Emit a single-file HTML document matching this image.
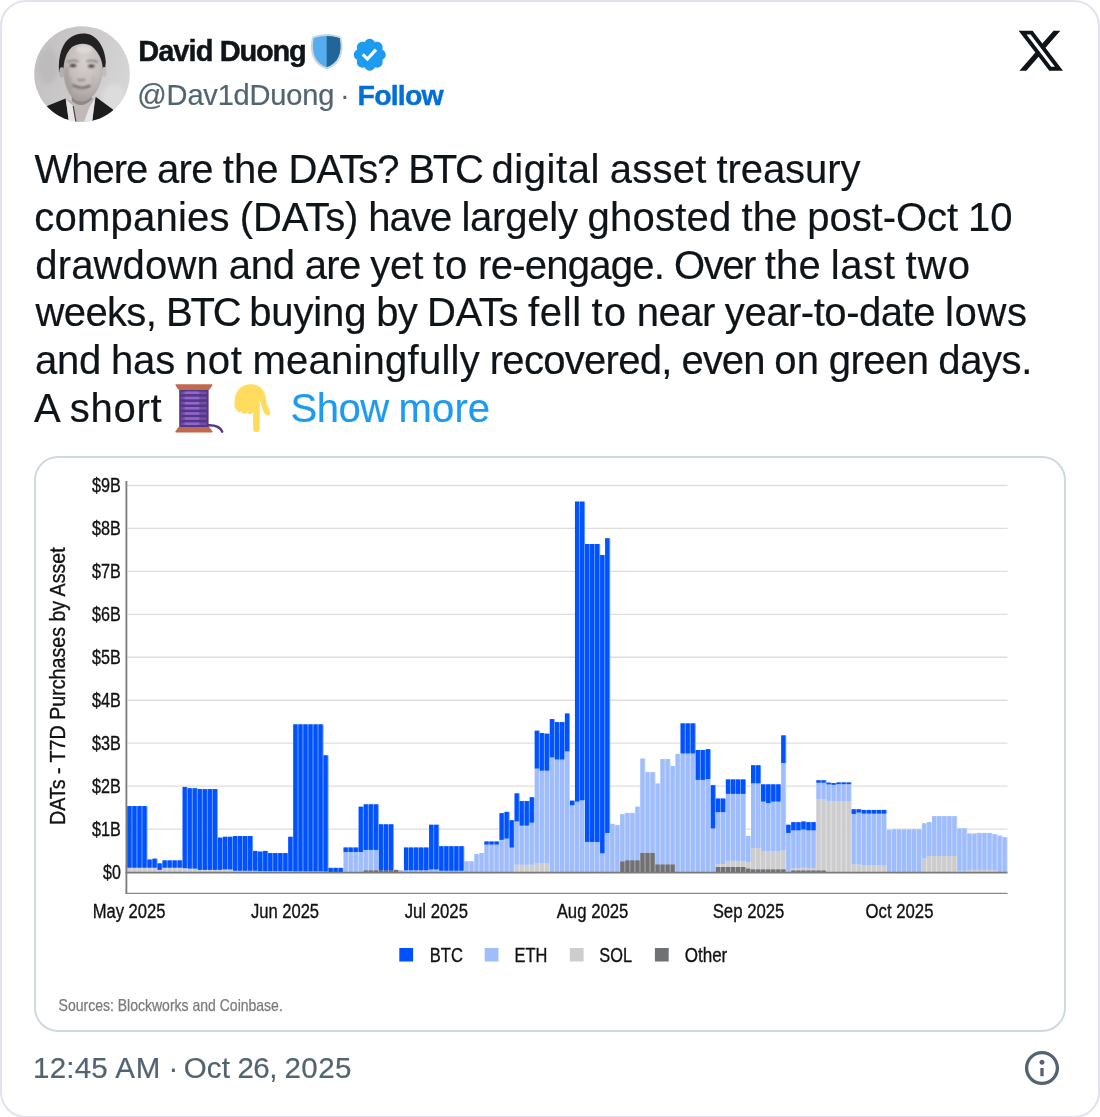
<!DOCTYPE html>
<html lang="en"><head><meta charset="utf-8"><title>Post by David Duong</title>
<style>
html,body{margin:0;padding:0;background:#fff}
body{width:1100px;height:1117px;overflow:hidden;font-family:"Liberation Sans",sans-serif}
.abs{position:absolute}
#card{position:relative;width:1100px;height:1118px;box-sizing:border-box;border:2px solid #e2e1f1;border-radius:26px;background:#fff;overflow:hidden}
#inner{position:absolute;left:-2px;top:-2px;width:1100px;height:1117px}
.tw{line-height:48px;height:48px;color:#0f1419;white-space:pre;-webkit-text-stroke:0.2px currentColor}
.tw span,.hd span{position:absolute;top:0;left:0;white-space:pre}
.hd{white-space:pre;line-height:40px;height:40px}
#media{left:34px;top:456px;width:1032px;height:576px;box-sizing:border-box;border:2px solid #cfd9de;border-radius:24px;background:#fff}
</style></head><body>
<div id="card"><div id="inner">
<svg class="abs" style="left:34px;top:26px" width="96" height="96" viewBox="0 0 96 96">
<defs>
<clipPath id="avc"><circle cx="48" cy="48" r="47.8"/></clipPath>
<linearGradient id="avbg" x1="0" y1="0.2" x2="1" y2="0.5"><stop offset="0" stop-color="#c2c0c0"/><stop offset="0.5" stop-color="#cbc9c9"/><stop offset="1" stop-color="#d6d5d5"/></linearGradient>
<radialGradient id="avface" cx="0.55" cy="0.3" r="0.75"><stop offset="0" stop-color="#d6d0cf"/><stop offset="0.55" stop-color="#c4bdbc"/><stop offset="1" stop-color="#9f9897"/></radialGradient>
<filter id="avb" x="-10%" y="-10%" width="120%" height="120%"><feGaussianBlur stdDeviation="0.65"/></filter>
<filter id="avb4" x="-20%" y="-20%" width="140%" height="140%"><feGaussianBlur stdDeviation="0.8"/></filter>
<filter id="avb2" x="-20%" y="-20%" width="140%" height="140%"><feGaussianBlur stdDeviation="1.3"/></filter>
<filter id="avb3" x="-20%" y="-20%" width="140%" height="140%"><feGaussianBlur stdDeviation="2.2"/></filter>
</defs>
<g clip-path="url(#avc)">
<rect width="96" height="96" fill="url(#avbg)"/>
<ellipse cx="80" cy="72" rx="12" ry="14" fill="#dddcdc" filter="url(#avb3)"/>
<ellipse cx="14" cy="40" rx="10" ry="18" fill="#bdbbbb" filter="url(#avb3)"/>
<g filter="url(#avb)">
<path d="M13 80 L31.600 72.500 L36.500 97 L10 100Z" fill="#1c1c1d"/><path d="M61.600 70.700 L79 83.500 L82 100 L56 97Z" fill="#1c1c1d"/>
<path d="M31.600 72.500 L35 97 L58 97 L61.600 70.700 L48 80Z" fill="#b9b2b1"/>
<path d="M38.500 64 L38.500 97 L50 97 L57 80 L58 64Z" fill="#c0b9b8"/>
<path d="M37.800 69 Q48 80 58 68 L58 73 Q48 84 37.800 75Z" fill="#8f8887"/>
<path d="M32 73.500 L38.800 79.500 L41.500 97 L35 97Z" fill="#e6e6e8"/>
<path d="M61 72 L55.500 81 L49.500 97 L58 97Z" fill="#e6e6e8"/>
<path d="M39.200 80 L42 96" stroke="#4a4544" stroke-width="1.200" fill="none"/>
<path d="M25 46 C24 30 28 16 38 10.500 C44 7 52 6.500 58 9.500 C66 14 71 24 71.800 36 L71 44 L68 46 L30 47Z" fill="#232222"/>
<ellipse cx="27.800" cy="46.500" rx="2.600" ry="5.200" fill="#b7b0af"/>
<ellipse cx="70.300" cy="46" rx="2.400" ry="5" fill="#c4bdbc"/>
<path d="M29.400 43.500 C29.800 35 32 26.500 38 21 C43 17.300 52 16 58 20.500 C64 25.500 68 33 68.800 42 C69 52 66 60 60.700 68 C56 73.500 52 75.500 47 75.500 C42 75.500 38 72 35 67 C31 60 29.400 52 29.400 43.500Z" fill="url(#avface)"/>
</g>
<g filter="url(#avb2)">
<path d="M30.500 44 C30.500 52 32 60 36 67 L39 62 C35 56 34 48 34.500 40Z" fill="#a39c9b" opacity="0.8"/>
<ellipse cx="50" cy="23.500" rx="8" ry="4" fill="#e0dbda" opacity="0.85"/>
</g>
<g filter="url(#avb4)">
<ellipse cx="39" cy="39.600" rx="3.200" ry="1.500" fill="#3c3838"/>
<ellipse cx="57.300" cy="39.900" rx="3.200" ry="1.500" fill="#3c3838"/>
<path d="M33.500 36 Q39 33.200 44.500 35.600" stroke="#7a7372" stroke-width="1.500" fill="none"/>
<path d="M52.500 35.600 Q58 33.200 64 36.200" stroke="#7a7372" stroke-width="1.500" fill="none"/>
<path d="M43.500 53.200 Q47 55.400 51 53.200" stroke="#8a8382" stroke-width="1.800" fill="none"/>
<path d="M38 58.800 Q47 64.500 56.500 59.600" stroke="#5f5857" stroke-width="1.800" fill="none"/>
<path d="M41 62.500 Q47 66 53.500 63" stroke="#b1a9a8" stroke-width="1.600" fill="none"/>
<path d="M37 50 Q35.500 56 38 60" stroke="#aaa3a2" stroke-width="1.500" fill="none"/>
<path d="M58.500 50 Q60.500 56 57.500 60.500" stroke="#b6afae" stroke-width="1.500" fill="none"/>
</g>
</g></svg>
<div class="abs hd" id="name" style="left:138.20px;top:30.80px;font-size:29px;font-weight:700;color:#0f1419;-webkit-text-stroke:0.45px #0f1419"><span style="left:0.00px;letter-spacing:-0.953px">David </span><span style="left:81.56px;letter-spacing:-1.188px">Duong</span></div>
<svg class="abs" style="left:308.700px;top:33.800px" width="35.400" height="35.400" viewBox="0 0 36 36">
<path fill="#CCD6DD" d="M33 3c-7-3-15-3-15-3S10 0 3 3C0 18 3 31 18 36c15-5 18-18 15-33z"/>
<path fill="#55ACEE" d="M18 33.884C6.412 29.729 1.961 19.831 4.760 4.444 11.063 2.029 17.928 2 18 2c.071 0 6.958.040 13.240 2.444 2.799 15.387-1.652 25.285-13.240 29.440z"/>
<path fill="#226699" d="M31.240 4.444C24.958 2.040 18.071 2 18 2v31.884c11.588-4.155 16.039-14.053 13.240-29.440z"/>
</svg>
<svg class="abs" style="left:350.700px;top:36.100px" width="37.500" height="37.500" viewBox="0 0 24 24">
<path fill="#1d9bf0" d="M22.250 12c0-1.430-.880-2.670-2.190-3.340.460-1.390.200-2.900-.810-3.910s-2.520-1.270-3.910-.810c-.660-1.310-1.910-2.190-3.340-2.190s-2.670.880-3.330 2.190c-1.400-.460-2.910-.200-3.920.810s-1.260 2.520-.800 3.910c-1.310.670-2.200 1.910-2.200 3.340s.890 2.670 2.200 3.340c-.460 1.390-.210 2.900.800 3.910s2.520 1.260 3.910.810c.670 1.310 1.910 2.190 3.340 2.190s2.680-.880 3.340-2.190c1.390.450 2.900.200 3.910-.810s1.270-2.520.810-3.910c1.310-.670 2.190-1.910 2.190-3.340zm-11.710 4.200L6.800 12.460l1.410-1.420 2.260 2.260 4.800-5.230 1.470 1.360-6.200 6.770z"/>
</svg>
<div class="abs hd" id="handle" style="left:137.36px;top:75.20px;font-size:29px;color:#536471;-webkit-text-stroke:0.2px #536471"><span style="left:0.00px;letter-spacing:-0.179px">@Dav1dDuong</span></div>
<div class="abs hd" id="dot" style="left:340px;top:75.20px;font-size:29px;color:#536471">·</div>
<div class="abs hd" id="follow" style="left:357.60px;top:75.20px;font-size:28.5px;font-weight:700;color:#006fd6;-webkit-text-stroke:0.4px #006fd6"><span style="left:0.00px;letter-spacing:-0.826px">Follow</span></div>
<svg class="abs" style="left:1015.900px;top:25.600px" width="49.400" height="49.400" viewBox="0 0 24 24">
<path fill="#0f1419" d="M18.244 2.250h3.308l-7.227 8.260 8.502 11.240H16.170l-5.214-6.817L4.990 21.750H1.680l7.730-8.835L1.254 2.250H8.080l4.713 6.231zm-1.161 17.520h1.833L7.084 4.126H5.117z"/>
</svg>
<div class="abs tw" id="L0" style="left:34.60px;top:145.10px;font-size:40px;"><span style="left:0.00px;letter-spacing:-1.069px">Where </span><span style="left:122.34px;letter-spacing:-0.661px">are </span><span style="left:188.05px;letter-spacing:0.130px">the </span><span style="left:253.92px;letter-spacing:-0.984px">DATs? </span><span style="left:373.72px;letter-spacing:-2.224px">BTC </span><span style="left:456.92px;letter-spacing:0.556px">digital </span><span style="left:575.20px;letter-spacing:0.234px">asset </span><span style="left:681.86px;letter-spacing:-0.072px">treasury</span></div><div class="abs tw" id="L1" style="left:34.28px;top:192.80px;font-size:40px;"><span style="left:0.00px;letter-spacing:0.238px">companies </span><span style="left:205.45px;letter-spacing:-0.112px">(DATs) </span><span style="left:333.91px;letter-spacing:-0.852px">have </span><span style="left:427.12px;letter-spacing:-0.219px">largely </span><span style="left:553.31px;letter-spacing:0.232px">ghosted </span><span style="left:707.16px;letter-spacing:0.130px">the </span><span style="left:773.03px;letter-spacing:-0.055px">post-Oct </span><span style="left:933.62px;letter-spacing:0.102px">10</span></div><div class="abs tw" id="L2" style="left:35.28px;top:240.50px;font-size:40px;"><span style="left:0.00px;letter-spacing:0.158px">drawdown </span><span style="left:193.47px;letter-spacing:-0.240px">and </span><span style="left:269.38px;letter-spacing:-0.661px">are </span><span style="left:335.08px;letter-spacing:-0.229px">yet </span><span style="left:397.62px;letter-spacing:0.977px">to </span><span style="left:442.81px;letter-spacing:-0.739px">re-engage. </span><span style="left:638.78px;letter-spacing:-1.438px">Over </span><span style="left:729.59px;letter-spacing:0.130px">the </span><span style="left:795.47px;letter-spacing:0.648px">last </span><span style="left:870.19px;letter-spacing:1.109px">two</span></div><div class="abs tw" id="L3" style="left:35.60px;top:288.20px;font-size:40px;"><span style="left:0.00px;letter-spacing:-0.656px">weeks, </span><span style="left:130.44px;letter-spacing:-2.224px">BTC </span><span style="left:213.64px;letter-spacing:-0.141px">buying </span><span style="left:340.55px;letter-spacing:-0.656px">by </span><span style="left:391.36px;letter-spacing:-0.371px">DATs </span><span style="left:492.36px;letter-spacing:0.664px">fell </span><span style="left:556.03px;letter-spacing:0.977px">to </span><span style="left:601.22px;letter-spacing:-0.477px">near </span><span style="left:689.25px;letter-spacing:-0.457px">year-to-date </span><span style="left:909.31px;letter-spacing:0.684px">lows</span></div><div class="abs tw" id="L4" style="left:35.08px;top:335.90px;font-size:40px;"><span style="left:0.00px;letter-spacing:-0.240px">and </span><span style="left:75.91px;letter-spacing:-0.146px">has </span><span style="left:149.84px;letter-spacing:0.682px">not </span><span style="left:217.38px;letter-spacing:0.237px">meaningfully </span><span style="left:454.67px;letter-spacing:-0.705px">recovered, </span><span style="left:646.48px;letter-spacing:-0.965px">even </span><span style="left:739.25px;letter-spacing:0.070px">on </span><span style="left:793.77px;letter-spacing:-0.547px">green </span><span style="left:903.22px;letter-spacing:-0.403px">days.</span></div><div class="abs tw" id="L5" style="left:34.04px;top:383.60px;font-size:40px;"><span style="left:0.00px;letter-spacing:1.469px">A </span><span style="left:35.83px;letter-spacing:0.725px">short</span></div><div class="abs tw" id="L6" style="left:290.60px;top:383.60px;font-size:40px;color:#1d9bf0"><span style="left:0.00px;letter-spacing:-0.496px">Show </span><span style="left:107.95px;letter-spacing:0.152px">more</span></div>
<svg class="abs" style="left:0;top:0" width="1100" height="1117" viewBox="0 0 1100 1117">
<path d="M208 425.200 C216 425 220.500 427 222.200 431.600" stroke="#553788" stroke-width="2.500" fill="none" stroke-linecap="round"/>
<rect x="179.200" y="388.500" width="29.400" height="39.500" fill="#553788"/>
<rect x="181.200" y="391.60" width="25.400" height="2.500" fill="#744eaa"/><rect x="184.500" y="391.60" width="15" height="2.500" rx="1" fill="#9266cc"/><rect x="181.200" y="396.75" width="25.400" height="2.500" fill="#744eaa"/><rect x="184.500" y="396.75" width="15" height="2.500" rx="1" fill="#9266cc"/><rect x="181.200" y="401.90" width="25.400" height="2.500" fill="#744eaa"/><rect x="184.500" y="401.90" width="15" height="2.500" rx="1" fill="#9266cc"/><rect x="181.200" y="407.05" width="25.400" height="2.500" fill="#744eaa"/><rect x="184.500" y="407.05" width="15" height="2.500" rx="1" fill="#9266cc"/><rect x="181.200" y="412.20" width="25.400" height="2.500" fill="#744eaa"/><rect x="184.500" y="412.20" width="15" height="2.500" rx="1" fill="#9266cc"/><rect x="181.200" y="417.35" width="25.400" height="2.500" fill="#744eaa"/><rect x="184.500" y="417.35" width="15" height="2.500" rx="1" fill="#9266cc"/><rect x="181.200" y="422.50" width="25.400" height="2.500" fill="#744eaa"/><rect x="184.500" y="422.50" width="15" height="2.500" rx="1" fill="#9266cc"/>
<path d="M176.300 384.300 H211.600 Q212.800 384.300 212.300 385.500 L209.800 389.300 Q209.400 389.900 208.600 389.900 H179.300 Q178.500 389.900 178.100 389.300 L175.600 385.500 Q175.100 384.300 176.300 384.300Z" fill="#c1694f"/>
<path d="M176.300 432.500 H211.600 Q212.800 432.500 212.300 431.300 L209.800 427.500 Q209.400 426.900 208.600 426.900 H179.300 Q178.500 426.900 178.100 427.500 L175.600 431.300 Q175.100 432.500 176.300 432.500Z" fill="#c1694f"/>
<path d="M234.600 406 C233.500 392 240.500 384.300 251 384.300 C259.500 384.300 265 390 266 399 C266.800 406 269.500 409.500 270.300 412.500 C270.800 414.800 268.500 416 266.500 415 C263.500 413.500 261.500 408 260.500 401.500 L259.800 401.500 L259.800 429 C259.800 433.400 253.100 433.400 253.100 429 L253.100 411.500 C252.500 414.500 248.500 415.300 247.300 412.600 C245.800 414.600 242.300 414.300 241.400 411.600 C239.300 412.800 236.300 411.600 236.200 409 C235 408.800 234.700 407.500 234.600 406Z" fill="#ffdc5d"/>
</svg>
<div class="abs" id="media"></div>
<svg class="abs" style="left:0;top:0" width="1100" height="1117" viewBox="0 0 1100 1117" font-family="Liberation Sans, sans-serif" stroke-width="0.35" paint-order="stroke">
<g><line x1="127.5" x2="1007.5" y1="829.05" y2="829.05" stroke="#dedede" stroke-width="1.35"/><line x1="127.5" x2="1007.5" y1="786.10" y2="786.10" stroke="#dedede" stroke-width="1.35"/><line x1="127.5" x2="1007.5" y1="743.15" y2="743.15" stroke="#dedede" stroke-width="1.35"/><line x1="127.5" x2="1007.5" y1="700.20" y2="700.20" stroke="#dedede" stroke-width="1.35"/><line x1="127.5" x2="1007.5" y1="657.25" y2="657.25" stroke="#dedede" stroke-width="1.35"/><line x1="127.5" x2="1007.5" y1="614.30" y2="614.30" stroke="#dedede" stroke-width="1.35"/><line x1="127.5" x2="1007.5" y1="571.35" y2="571.35" stroke="#dedede" stroke-width="1.35"/><line x1="127.5" x2="1007.5" y1="528.40" y2="528.40" stroke="#dedede" stroke-width="1.35"/><line x1="127.5" x2="1007.5" y1="485.45" y2="485.45" stroke="#dedede" stroke-width="1.35"/></g>
<g><rect x="127.30" y="867.71" width="5.08" height="4.29" fill="#e3e3e4"/><rect x="127.30" y="806.07" width="5.08" height="61.63" fill="#709eff"/><rect x="132.33" y="867.71" width="5.08" height="4.29" fill="#e3e3e4"/><rect x="132.33" y="806.07" width="5.08" height="61.63" fill="#709eff"/><rect x="137.36" y="867.71" width="5.08" height="4.29" fill="#e3e3e4"/><rect x="137.36" y="806.07" width="5.08" height="61.63" fill="#709eff"/><rect x="142.39" y="867.71" width="5.08" height="4.29" fill="#e3e3e4"/><rect x="142.39" y="806.07" width="5.08" height="61.63" fill="#709eff"/><rect x="147.42" y="867.71" width="5.08" height="4.29" fill="#e3e3e4"/><rect x="147.42" y="859.54" width="5.08" height="8.16" fill="#709eff"/><rect x="152.45" y="867.71" width="5.08" height="4.29" fill="#e3e3e4"/><rect x="152.45" y="858.69" width="5.08" height="9.02" fill="#709eff"/><rect x="157.48" y="869.85" width="5.08" height="2.15" fill="#e3e3e4"/><rect x="157.48" y="863.41" width="5.08" height="6.44" fill="#709eff"/><rect x="162.51" y="867.71" width="5.08" height="4.29" fill="#e3e3e4"/><rect x="162.51" y="860.40" width="5.08" height="7.30" fill="#709eff"/><rect x="167.54" y="867.71" width="5.08" height="4.29" fill="#e3e3e4"/><rect x="167.54" y="860.40" width="5.08" height="7.30" fill="#709eff"/><rect x="172.57" y="867.71" width="5.08" height="4.29" fill="#e3e3e4"/><rect x="172.57" y="860.40" width="5.08" height="7.30" fill="#709eff"/><rect x="177.60" y="867.71" width="5.08" height="4.29" fill="#e3e3e4"/><rect x="177.60" y="860.40" width="5.08" height="7.30" fill="#709eff"/><rect x="182.63" y="868.13" width="5.08" height="3.87" fill="#e3e3e4"/><rect x="182.63" y="786.96" width="5.08" height="81.18" fill="#709eff"/><rect x="187.66" y="868.56" width="5.08" height="3.44" fill="#e3e3e4"/><rect x="187.66" y="788.25" width="5.08" height="80.32" fill="#709eff"/><rect x="192.69" y="868.56" width="5.08" height="3.44" fill="#e3e3e4"/><rect x="192.69" y="788.25" width="5.08" height="80.32" fill="#709eff"/><rect x="197.72" y="869.85" width="5.08" height="2.15" fill="#e3e3e4"/><rect x="197.72" y="789.11" width="5.08" height="80.75" fill="#709eff"/><rect x="202.75" y="869.85" width="5.08" height="2.15" fill="#e3e3e4"/><rect x="202.75" y="789.11" width="5.08" height="80.75" fill="#709eff"/><rect x="207.78" y="869.85" width="5.08" height="2.15" fill="#e3e3e4"/><rect x="207.78" y="789.11" width="5.08" height="80.75" fill="#709eff"/><rect x="212.81" y="869.85" width="5.08" height="2.15" fill="#e3e3e4"/><rect x="212.81" y="789.11" width="5.08" height="80.75" fill="#709eff"/><rect x="217.84" y="869.85" width="5.08" height="2.15" fill="#e3e3e4"/><rect x="217.84" y="837.64" width="5.08" height="32.21" fill="#709eff"/><rect x="222.87" y="869.42" width="5.08" height="2.58" fill="#e3e3e4"/><rect x="222.87" y="836.78" width="5.08" height="32.64" fill="#709eff"/><rect x="227.90" y="869.42" width="5.08" height="2.58" fill="#e3e3e4"/><rect x="227.90" y="836.78" width="5.08" height="32.64" fill="#709eff"/><rect x="232.93" y="870.71" width="5.08" height="1.29" fill="#e3e3e4"/><rect x="232.93" y="836.05" width="5.08" height="34.66" fill="#709eff"/><rect x="237.96" y="870.71" width="5.08" height="1.29" fill="#e3e3e4"/><rect x="237.96" y="836.05" width="5.08" height="34.66" fill="#709eff"/><rect x="242.99" y="870.71" width="5.08" height="1.29" fill="#e3e3e4"/><rect x="242.99" y="836.05" width="5.08" height="34.66" fill="#709eff"/><rect x="248.02" y="870.71" width="5.08" height="1.29" fill="#e3e3e4"/><rect x="248.02" y="836.05" width="5.08" height="34.66" fill="#709eff"/><rect x="253.05" y="870.71" width="5.08" height="1.29" fill="#e3e3e4"/><rect x="253.05" y="850.95" width="5.08" height="19.76" fill="#709eff"/><rect x="258.08" y="871.14" width="5.08" height="0.86" fill="#e3e3e4"/><rect x="258.08" y="851.60" width="5.08" height="19.54" fill="#709eff"/><rect x="263.11" y="871.14" width="5.08" height="0.86" fill="#e3e3e4"/><rect x="263.11" y="850.95" width="5.08" height="20.19" fill="#709eff"/><rect x="268.14" y="871.14" width="5.08" height="0.86" fill="#e3e3e4"/><rect x="268.14" y="853.10" width="5.08" height="18.04" fill="#709eff"/><rect x="273.17" y="871.14" width="5.08" height="0.86" fill="#e3e3e4"/><rect x="273.17" y="853.10" width="5.08" height="18.04" fill="#709eff"/><rect x="278.20" y="871.14" width="5.08" height="0.86" fill="#e3e3e4"/><rect x="278.20" y="853.10" width="5.08" height="18.04" fill="#709eff"/><rect x="283.23" y="871.14" width="5.08" height="0.86" fill="#e3e3e4"/><rect x="283.23" y="853.10" width="5.08" height="18.04" fill="#709eff"/><rect x="288.26" y="871.14" width="5.08" height="0.86" fill="#e3e3e4"/><rect x="288.26" y="836.78" width="5.08" height="34.36" fill="#709eff"/><rect x="293.29" y="871.36" width="5.08" height="0.64" fill="#e3e3e4"/><rect x="293.29" y="724.38" width="5.08" height="146.97" fill="#709eff"/><rect x="298.32" y="871.36" width="5.08" height="0.64" fill="#e3e3e4"/><rect x="298.32" y="724.38" width="5.08" height="146.97" fill="#709eff"/><rect x="303.35" y="871.36" width="5.08" height="0.64" fill="#e3e3e4"/><rect x="303.35" y="724.38" width="5.08" height="146.97" fill="#709eff"/><rect x="308.38" y="871.36" width="5.08" height="0.64" fill="#e3e3e4"/><rect x="308.38" y="724.38" width="5.08" height="146.97" fill="#709eff"/><rect x="313.41" y="871.36" width="5.08" height="0.64" fill="#e3e3e4"/><rect x="313.41" y="724.38" width="5.08" height="146.97" fill="#709eff"/><rect x="318.44" y="871.36" width="5.08" height="0.64" fill="#e3e3e4"/><rect x="318.44" y="724.38" width="5.08" height="146.97" fill="#709eff"/><rect x="323.47" y="871.57" width="5.08" height="0.43" fill="#e3e3e4"/><rect x="323.47" y="755.35" width="5.08" height="116.22" fill="#709eff"/><rect x="328.50" y="867.88" width="5.08" height="4.12" fill="#709eff"/><rect x="333.53" y="867.88" width="5.08" height="4.12" fill="#709eff"/><rect x="338.56" y="867.88" width="5.08" height="4.12" fill="#709eff"/><rect x="343.59" y="851.99" width="5.08" height="20.01" fill="#c9dafd"/><rect x="343.59" y="847.52" width="5.08" height="4.47" fill="#709eff"/><rect x="348.62" y="851.99" width="5.08" height="20.01" fill="#c9dafd"/><rect x="348.62" y="847.52" width="5.08" height="4.47" fill="#709eff"/><rect x="353.65" y="851.99" width="5.08" height="20.01" fill="#c9dafd"/><rect x="353.65" y="847.52" width="5.08" height="4.47" fill="#709eff"/><rect x="358.68" y="851.99" width="5.08" height="20.01" fill="#c9dafd"/><rect x="358.68" y="806.72" width="5.08" height="45.27" fill="#709eff"/><rect x="363.71" y="870.20" width="5.08" height="1.80" fill="#afafb1"/><rect x="363.71" y="849.88" width="5.08" height="20.32" fill="#c9dafd"/><rect x="363.71" y="804.35" width="5.08" height="45.53" fill="#709eff"/><rect x="368.74" y="870.20" width="5.08" height="1.80" fill="#afafb1"/><rect x="368.74" y="849.88" width="5.08" height="20.32" fill="#c9dafd"/><rect x="368.74" y="804.35" width="5.08" height="45.53" fill="#709eff"/><rect x="373.77" y="870.20" width="5.08" height="1.80" fill="#afafb1"/><rect x="373.77" y="849.88" width="5.08" height="20.32" fill="#c9dafd"/><rect x="373.77" y="804.35" width="5.08" height="45.53" fill="#709eff"/><rect x="378.80" y="870.20" width="5.08" height="1.80" fill="#afafb1"/><rect x="378.80" y="824.33" width="5.08" height="45.87" fill="#709eff"/><rect x="383.83" y="870.20" width="5.08" height="1.80" fill="#afafb1"/><rect x="383.83" y="824.33" width="5.08" height="45.87" fill="#709eff"/><rect x="388.86" y="870.20" width="5.08" height="1.80" fill="#afafb1"/><rect x="388.86" y="824.33" width="5.08" height="45.87" fill="#709eff"/><rect x="393.89" y="869.85" width="5.08" height="2.15" fill="#afafb1"/><rect x="398.92" y="870.28" width="5.08" height="1.72" fill="#c9dafd"/><rect x="403.95" y="870.28" width="5.08" height="1.72" fill="#c9dafd"/><rect x="403.95" y="847.52" width="5.08" height="22.76" fill="#709eff"/><rect x="408.98" y="870.28" width="5.08" height="1.72" fill="#c9dafd"/><rect x="408.98" y="847.52" width="5.08" height="22.76" fill="#709eff"/><rect x="414.01" y="870.28" width="5.08" height="1.72" fill="#c9dafd"/><rect x="414.01" y="847.52" width="5.08" height="22.76" fill="#709eff"/><rect x="419.04" y="870.28" width="5.08" height="1.72" fill="#c9dafd"/><rect x="419.04" y="847.52" width="5.08" height="22.76" fill="#709eff"/><rect x="424.07" y="870.28" width="5.08" height="1.72" fill="#c9dafd"/><rect x="424.07" y="847.52" width="5.08" height="22.76" fill="#709eff"/><rect x="429.10" y="869.42" width="5.08" height="2.58" fill="#c9dafd"/><rect x="429.10" y="824.75" width="5.08" height="44.67" fill="#709eff"/><rect x="434.13" y="869.42" width="5.08" height="2.58" fill="#c9dafd"/><rect x="434.13" y="824.75" width="5.08" height="44.67" fill="#709eff"/><rect x="439.16" y="870.71" width="5.08" height="1.29" fill="#c9dafd"/><rect x="439.16" y="846.23" width="5.08" height="24.48" fill="#709eff"/><rect x="444.19" y="870.71" width="5.08" height="1.29" fill="#c9dafd"/><rect x="444.19" y="846.23" width="5.08" height="24.48" fill="#709eff"/><rect x="449.22" y="870.71" width="5.08" height="1.29" fill="#c9dafd"/><rect x="449.22" y="846.23" width="5.08" height="24.48" fill="#709eff"/><rect x="454.25" y="870.71" width="5.08" height="1.29" fill="#c9dafd"/><rect x="454.25" y="846.23" width="5.08" height="24.48" fill="#709eff"/><rect x="459.28" y="870.71" width="5.08" height="1.29" fill="#c9dafd"/><rect x="459.28" y="846.23" width="5.08" height="24.48" fill="#709eff"/><rect x="464.31" y="861.26" width="5.08" height="10.74" fill="#c9dafd"/><rect x="469.34" y="861.26" width="5.08" height="10.74" fill="#c9dafd"/><rect x="474.37" y="853.96" width="5.08" height="18.04" fill="#c9dafd"/><rect x="479.40" y="853.10" width="5.08" height="18.90" fill="#c9dafd"/><rect x="484.43" y="844.51" width="5.08" height="27.49" fill="#c9dafd"/><rect x="484.43" y="841.51" width="5.08" height="3.01" fill="#709eff"/><rect x="489.46" y="844.51" width="5.08" height="27.49" fill="#c9dafd"/><rect x="489.46" y="841.51" width="5.08" height="3.01" fill="#709eff"/><rect x="494.49" y="844.51" width="5.08" height="27.49" fill="#c9dafd"/><rect x="494.49" y="841.51" width="5.08" height="3.01" fill="#709eff"/><rect x="499.52" y="839.79" width="5.08" height="32.21" fill="#c9dafd"/><rect x="499.52" y="813.16" width="5.08" height="26.63" fill="#709eff"/><rect x="504.55" y="838.50" width="5.08" height="33.50" fill="#c9dafd"/><rect x="504.55" y="811.87" width="5.08" height="26.63" fill="#709eff"/><rect x="509.58" y="847.52" width="5.08" height="24.48" fill="#c9dafd"/><rect x="509.58" y="820.25" width="5.08" height="27.27" fill="#709eff"/><rect x="514.61" y="864.70" width="5.08" height="7.30" fill="#e3e3e4"/><rect x="514.61" y="821.32" width="5.08" height="43.38" fill="#c9dafd"/><rect x="514.61" y="793.40" width="5.08" height="27.92" fill="#709eff"/><rect x="519.64" y="864.70" width="5.08" height="7.30" fill="#e3e3e4"/><rect x="519.64" y="825.61" width="5.08" height="39.08" fill="#c9dafd"/><rect x="519.64" y="801.13" width="5.08" height="24.48" fill="#709eff"/><rect x="524.67" y="864.70" width="5.08" height="7.30" fill="#e3e3e4"/><rect x="524.67" y="825.61" width="5.08" height="39.08" fill="#c9dafd"/><rect x="524.67" y="801.13" width="5.08" height="24.48" fill="#709eff"/><rect x="529.70" y="864.70" width="5.08" height="7.30" fill="#e3e3e4"/><rect x="529.70" y="822.61" width="5.08" height="42.09" fill="#c9dafd"/><rect x="529.70" y="797.27" width="5.08" height="25.34" fill="#709eff"/><rect x="534.73" y="862.98" width="5.08" height="9.02" fill="#e3e3e4"/><rect x="534.73" y="768.49" width="5.08" height="94.49" fill="#c9dafd"/><rect x="534.73" y="730.69" width="5.08" height="37.80" fill="#709eff"/><rect x="539.76" y="862.98" width="5.08" height="9.02" fill="#e3e3e4"/><rect x="539.76" y="770.64" width="5.08" height="92.34" fill="#c9dafd"/><rect x="539.76" y="733.06" width="5.08" height="37.58" fill="#709eff"/><rect x="544.79" y="862.98" width="5.08" height="9.02" fill="#e3e3e4"/><rect x="544.79" y="770.64" width="5.08" height="92.34" fill="#c9dafd"/><rect x="544.79" y="733.70" width="5.08" height="36.94" fill="#709eff"/><rect x="549.82" y="757.32" width="5.08" height="114.68" fill="#c9dafd"/><rect x="549.82" y="719.10" width="5.08" height="38.23" fill="#709eff"/><rect x="554.85" y="759.47" width="5.08" height="112.53" fill="#c9dafd"/><rect x="554.85" y="722.10" width="5.08" height="37.37" fill="#709eff"/><rect x="559.88" y="759.47" width="5.08" height="112.53" fill="#c9dafd"/><rect x="559.88" y="722.10" width="5.08" height="37.37" fill="#709eff"/><rect x="564.91" y="751.31" width="5.08" height="120.69" fill="#c9dafd"/><rect x="564.91" y="713.51" width="5.08" height="37.80" fill="#709eff"/><rect x="569.94" y="805.21" width="5.08" height="66.79" fill="#c9dafd"/><rect x="569.94" y="800.70" width="5.08" height="4.51" fill="#709eff"/><rect x="574.97" y="801.56" width="5.08" height="70.44" fill="#c9dafd"/><rect x="574.97" y="501.60" width="5.08" height="299.96" fill="#709eff"/><rect x="580.00" y="800.27" width="5.08" height="71.73" fill="#c9dafd"/><rect x="580.00" y="501.60" width="5.08" height="298.67" fill="#709eff"/><rect x="585.03" y="841.93" width="5.08" height="30.07" fill="#c9dafd"/><rect x="585.03" y="543.99" width="5.08" height="297.94" fill="#709eff"/><rect x="590.06" y="841.93" width="5.08" height="30.07" fill="#c9dafd"/><rect x="590.06" y="543.99" width="5.08" height="297.94" fill="#709eff"/><rect x="595.09" y="841.93" width="5.08" height="30.07" fill="#c9dafd"/><rect x="595.09" y="543.99" width="5.08" height="297.94" fill="#709eff"/><rect x="600.12" y="853.32" width="5.08" height="18.68" fill="#c9dafd"/><rect x="600.12" y="555.03" width="5.08" height="298.29" fill="#709eff"/><rect x="605.15" y="832.92" width="5.08" height="39.08" fill="#c9dafd"/><rect x="605.15" y="538.28" width="5.08" height="294.64" fill="#709eff"/><rect x="610.18" y="823.90" width="5.08" height="48.10" fill="#c9dafd"/><rect x="615.21" y="825.18" width="5.08" height="46.82" fill="#c9dafd"/><rect x="620.24" y="861.26" width="5.08" height="10.74" fill="#afafb1"/><rect x="620.24" y="814.23" width="5.08" height="47.03" fill="#c9dafd"/><rect x="625.27" y="860.19" width="5.08" height="11.81" fill="#afafb1"/><rect x="625.27" y="812.94" width="5.08" height="47.25" fill="#c9dafd"/><rect x="630.30" y="860.19" width="5.08" height="11.81" fill="#afafb1"/><rect x="630.30" y="812.94" width="5.08" height="47.25" fill="#c9dafd"/><rect x="635.33" y="860.19" width="5.08" height="11.81" fill="#afafb1"/><rect x="635.33" y="806.72" width="5.08" height="53.47" fill="#c9dafd"/><rect x="640.36" y="852.67" width="5.08" height="19.33" fill="#afafb1"/><rect x="640.36" y="758.61" width="5.08" height="94.06" fill="#c9dafd"/><rect x="645.39" y="852.67" width="5.08" height="19.33" fill="#afafb1"/><rect x="645.39" y="772.14" width="5.08" height="80.53" fill="#c9dafd"/><rect x="650.42" y="852.67" width="5.08" height="19.33" fill="#afafb1"/><rect x="650.42" y="772.14" width="5.08" height="80.53" fill="#c9dafd"/><rect x="655.45" y="864.27" width="5.08" height="7.73" fill="#afafb1"/><rect x="655.45" y="783.52" width="5.08" height="80.75" fill="#c9dafd"/><rect x="660.48" y="864.27" width="5.08" height="7.73" fill="#afafb1"/><rect x="660.48" y="759.04" width="5.08" height="105.23" fill="#c9dafd"/><rect x="665.51" y="864.27" width="5.08" height="7.73" fill="#afafb1"/><rect x="665.51" y="759.04" width="5.08" height="105.23" fill="#c9dafd"/><rect x="670.54" y="864.27" width="5.08" height="7.73" fill="#afafb1"/><rect x="670.54" y="765.91" width="5.08" height="98.36" fill="#c9dafd"/><rect x="675.57" y="753.89" width="5.08" height="118.11" fill="#c9dafd"/><rect x="680.60" y="753.46" width="5.08" height="118.54" fill="#c9dafd"/><rect x="680.60" y="723.39" width="5.08" height="30.06" fill="#709eff"/><rect x="685.63" y="753.46" width="5.08" height="118.54" fill="#c9dafd"/><rect x="685.63" y="723.39" width="5.08" height="30.06" fill="#709eff"/><rect x="690.66" y="753.46" width="5.08" height="118.54" fill="#c9dafd"/><rect x="690.66" y="723.39" width="5.08" height="30.06" fill="#709eff"/><rect x="695.69" y="779.87" width="5.08" height="92.13" fill="#c9dafd"/><rect x="695.69" y="750.02" width="5.08" height="29.85" fill="#709eff"/><rect x="700.72" y="779.87" width="5.08" height="92.13" fill="#c9dafd"/><rect x="700.72" y="750.02" width="5.08" height="29.85" fill="#709eff"/><rect x="705.75" y="779.01" width="5.08" height="92.99" fill="#c9dafd"/><rect x="705.75" y="749.16" width="5.08" height="29.85" fill="#709eff"/><rect x="710.78" y="828.41" width="5.08" height="43.59" fill="#c9dafd"/><rect x="710.78" y="785.24" width="5.08" height="43.16" fill="#709eff"/><rect x="715.81" y="866.85" width="5.08" height="5.15" fill="#afafb1"/><rect x="715.81" y="864.27" width="5.08" height="2.58" fill="#e3e3e4"/><rect x="715.81" y="812.08" width="5.08" height="52.18" fill="#c9dafd"/><rect x="715.81" y="798.56" width="5.08" height="13.53" fill="#709eff"/><rect x="720.84" y="866.85" width="5.08" height="5.15" fill="#afafb1"/><rect x="720.84" y="864.27" width="5.08" height="2.58" fill="#e3e3e4"/><rect x="720.84" y="812.08" width="5.08" height="52.18" fill="#c9dafd"/><rect x="720.84" y="798.56" width="5.08" height="13.53" fill="#709eff"/><rect x="725.87" y="866.85" width="5.08" height="5.15" fill="#afafb1"/><rect x="725.87" y="860.83" width="5.08" height="6.01" fill="#e3e3e4"/><rect x="725.87" y="793.83" width="5.08" height="67.00" fill="#c9dafd"/><rect x="725.87" y="779.44" width="5.08" height="14.39" fill="#709eff"/><rect x="730.90" y="866.85" width="5.08" height="5.15" fill="#afafb1"/><rect x="730.90" y="860.83" width="5.08" height="6.01" fill="#e3e3e4"/><rect x="730.90" y="793.83" width="5.08" height="67.00" fill="#c9dafd"/><rect x="730.90" y="779.44" width="5.08" height="14.39" fill="#709eff"/><rect x="735.93" y="866.85" width="5.08" height="5.15" fill="#afafb1"/><rect x="735.93" y="860.83" width="5.08" height="6.01" fill="#e3e3e4"/><rect x="735.93" y="793.83" width="5.08" height="67.00" fill="#c9dafd"/><rect x="735.93" y="779.44" width="5.08" height="14.39" fill="#709eff"/><rect x="740.96" y="866.85" width="5.08" height="5.15" fill="#afafb1"/><rect x="740.96" y="860.83" width="5.08" height="6.01" fill="#e3e3e4"/><rect x="740.96" y="793.83" width="5.08" height="67.00" fill="#c9dafd"/><rect x="740.96" y="779.44" width="5.08" height="14.39" fill="#709eff"/><rect x="745.99" y="868.35" width="5.08" height="3.65" fill="#afafb1"/><rect x="745.99" y="862.12" width="5.08" height="6.23" fill="#e3e3e4"/><rect x="745.99" y="835.92" width="5.08" height="26.20" fill="#c9dafd"/><rect x="751.02" y="869.21" width="5.08" height="2.79" fill="#afafb1"/><rect x="751.02" y="847.95" width="5.08" height="21.26" fill="#e3e3e4"/><rect x="751.02" y="783.31" width="5.08" height="64.64" fill="#c9dafd"/><rect x="751.02" y="765.27" width="5.08" height="18.04" fill="#709eff"/><rect x="756.05" y="869.21" width="5.08" height="2.79" fill="#afafb1"/><rect x="756.05" y="847.95" width="5.08" height="21.26" fill="#e3e3e4"/><rect x="756.05" y="783.31" width="5.08" height="64.64" fill="#c9dafd"/><rect x="756.05" y="765.27" width="5.08" height="18.04" fill="#709eff"/><rect x="761.08" y="869.21" width="5.08" height="2.79" fill="#afafb1"/><rect x="761.08" y="851.17" width="5.08" height="18.04" fill="#e3e3e4"/><rect x="761.08" y="801.56" width="5.08" height="49.61" fill="#c9dafd"/><rect x="761.08" y="784.38" width="5.08" height="17.18" fill="#709eff"/><rect x="766.11" y="869.21" width="5.08" height="2.79" fill="#afafb1"/><rect x="766.11" y="851.17" width="5.08" height="18.04" fill="#e3e3e4"/><rect x="766.11" y="803.07" width="5.08" height="48.10" fill="#c9dafd"/><rect x="766.11" y="784.38" width="5.08" height="18.68" fill="#709eff"/><rect x="771.14" y="869.21" width="5.08" height="2.79" fill="#afafb1"/><rect x="771.14" y="851.17" width="5.08" height="18.04" fill="#e3e3e4"/><rect x="771.14" y="801.56" width="5.08" height="49.61" fill="#c9dafd"/><rect x="771.14" y="784.38" width="5.08" height="17.18" fill="#709eff"/><rect x="776.17" y="869.21" width="5.08" height="2.79" fill="#afafb1"/><rect x="776.17" y="851.17" width="5.08" height="18.04" fill="#e3e3e4"/><rect x="776.17" y="801.56" width="5.08" height="49.61" fill="#c9dafd"/><rect x="776.17" y="784.38" width="5.08" height="17.18" fill="#709eff"/><rect x="781.20" y="869.21" width="5.08" height="2.79" fill="#afafb1"/><rect x="781.20" y="850.10" width="5.08" height="19.11" fill="#e3e3e4"/><rect x="781.20" y="762.91" width="5.08" height="87.19" fill="#c9dafd"/><rect x="781.20" y="735.42" width="5.08" height="27.49" fill="#709eff"/><rect x="786.23" y="832.92" width="5.08" height="39.08" fill="#c9dafd"/><rect x="786.23" y="824.75" width="5.08" height="8.16" fill="#709eff"/><rect x="791.26" y="870.28" width="5.08" height="1.72" fill="#afafb1"/><rect x="791.26" y="868.13" width="5.08" height="2.15" fill="#e3e3e4"/><rect x="791.26" y="830.34" width="5.08" height="37.80" fill="#c9dafd"/><rect x="791.26" y="822.18" width="5.08" height="8.16" fill="#709eff"/><rect x="796.29" y="870.28" width="5.08" height="1.72" fill="#afafb1"/><rect x="796.29" y="868.13" width="5.08" height="2.15" fill="#e3e3e4"/><rect x="796.29" y="830.34" width="5.08" height="37.80" fill="#c9dafd"/><rect x="796.29" y="822.18" width="5.08" height="8.16" fill="#709eff"/><rect x="801.32" y="870.28" width="5.08" height="1.72" fill="#afafb1"/><rect x="801.32" y="867.71" width="5.08" height="2.58" fill="#e3e3e4"/><rect x="801.32" y="829.48" width="5.08" height="38.23" fill="#c9dafd"/><rect x="801.32" y="821.53" width="5.08" height="7.95" fill="#709eff"/><rect x="806.35" y="870.28" width="5.08" height="1.72" fill="#afafb1"/><rect x="806.35" y="868.13" width="5.08" height="2.15" fill="#e3e3e4"/><rect x="806.35" y="830.34" width="5.08" height="37.80" fill="#c9dafd"/><rect x="806.35" y="822.18" width="5.08" height="8.16" fill="#709eff"/><rect x="811.38" y="870.28" width="5.08" height="1.72" fill="#afafb1"/><rect x="811.38" y="868.13" width="5.08" height="2.15" fill="#e3e3e4"/><rect x="811.38" y="830.34" width="5.08" height="37.80" fill="#c9dafd"/><rect x="811.38" y="822.18" width="5.08" height="8.16" fill="#709eff"/><rect x="816.41" y="870.28" width="5.08" height="1.72" fill="#afafb1"/><rect x="816.41" y="798.99" width="5.08" height="71.30" fill="#e3e3e4"/><rect x="816.41" y="782.66" width="5.08" height="16.32" fill="#c9dafd"/><rect x="816.41" y="780.30" width="5.08" height="2.36" fill="#709eff"/><rect x="821.44" y="870.28" width="5.08" height="1.72" fill="#afafb1"/><rect x="821.44" y="798.99" width="5.08" height="71.30" fill="#e3e3e4"/><rect x="821.44" y="782.66" width="5.08" height="16.32" fill="#c9dafd"/><rect x="821.44" y="780.30" width="5.08" height="2.36" fill="#709eff"/><rect x="826.47" y="800.83" width="5.08" height="71.17" fill="#e3e3e4"/><rect x="826.47" y="784.38" width="5.08" height="16.45" fill="#c9dafd"/><rect x="826.47" y="782.66" width="5.08" height="1.72" fill="#709eff"/><rect x="831.50" y="801.13" width="5.08" height="70.87" fill="#e3e3e4"/><rect x="831.50" y="784.81" width="5.08" height="16.32" fill="#c9dafd"/><rect x="831.50" y="783.09" width="5.08" height="1.72" fill="#709eff"/><rect x="836.53" y="801.13" width="5.08" height="70.87" fill="#e3e3e4"/><rect x="836.53" y="784.17" width="5.08" height="16.97" fill="#c9dafd"/><rect x="836.53" y="782.45" width="5.08" height="1.72" fill="#709eff"/><rect x="841.56" y="801.13" width="5.08" height="70.87" fill="#e3e3e4"/><rect x="841.56" y="784.17" width="5.08" height="16.97" fill="#c9dafd"/><rect x="841.56" y="782.45" width="5.08" height="1.72" fill="#709eff"/><rect x="846.59" y="801.13" width="5.08" height="70.87" fill="#e3e3e4"/><rect x="846.59" y="784.17" width="5.08" height="16.97" fill="#c9dafd"/><rect x="846.59" y="782.45" width="5.08" height="1.72" fill="#709eff"/><rect x="851.62" y="864.27" width="5.08" height="7.73" fill="#e3e3e4"/><rect x="851.62" y="813.89" width="5.08" height="50.38" fill="#c9dafd"/><rect x="851.62" y="809.29" width="5.08" height="4.60" fill="#709eff"/><rect x="856.65" y="864.27" width="5.08" height="7.73" fill="#e3e3e4"/><rect x="856.65" y="812.51" width="5.08" height="51.75" fill="#c9dafd"/><rect x="856.65" y="809.29" width="5.08" height="3.22" fill="#709eff"/><rect x="861.68" y="865.30" width="5.08" height="6.70" fill="#e3e3e4"/><rect x="861.68" y="813.59" width="5.08" height="51.71" fill="#c9dafd"/><rect x="861.68" y="809.94" width="5.08" height="3.65" fill="#709eff"/><rect x="866.71" y="865.30" width="5.08" height="6.70" fill="#e3e3e4"/><rect x="866.71" y="813.59" width="5.08" height="51.71" fill="#c9dafd"/><rect x="866.71" y="809.94" width="5.08" height="3.65" fill="#709eff"/><rect x="871.74" y="865.30" width="5.08" height="6.70" fill="#e3e3e4"/><rect x="871.74" y="813.59" width="5.08" height="51.71" fill="#c9dafd"/><rect x="871.74" y="809.94" width="5.08" height="3.65" fill="#709eff"/><rect x="876.77" y="865.30" width="5.08" height="6.70" fill="#e3e3e4"/><rect x="876.77" y="813.59" width="5.08" height="51.71" fill="#c9dafd"/><rect x="876.77" y="809.94" width="5.08" height="3.65" fill="#709eff"/><rect x="881.80" y="865.30" width="5.08" height="6.70" fill="#e3e3e4"/><rect x="881.80" y="813.59" width="5.08" height="51.71" fill="#c9dafd"/><rect x="881.80" y="809.94" width="5.08" height="3.65" fill="#709eff"/><rect x="886.83" y="829.91" width="5.08" height="42.09" fill="#c9dafd"/><rect x="891.86" y="829.31" width="5.08" height="42.69" fill="#c9dafd"/><rect x="896.89" y="829.31" width="5.08" height="42.69" fill="#c9dafd"/><rect x="901.92" y="829.31" width="5.08" height="42.69" fill="#c9dafd"/><rect x="906.95" y="829.31" width="5.08" height="42.69" fill="#c9dafd"/><rect x="911.98" y="829.31" width="5.08" height="42.69" fill="#c9dafd"/><rect x="917.01" y="829.31" width="5.08" height="42.69" fill="#c9dafd"/><rect x="922.04" y="858.38" width="5.08" height="13.62" fill="#e3e3e4"/><rect x="922.04" y="823.34" width="5.08" height="35.05" fill="#c9dafd"/><rect x="927.07" y="856.02" width="5.08" height="15.98" fill="#e3e3e4"/><rect x="927.07" y="822.05" width="5.08" height="33.97" fill="#c9dafd"/><rect x="932.10" y="856.02" width="5.08" height="15.98" fill="#e3e3e4"/><rect x="932.10" y="816.16" width="5.08" height="39.86" fill="#c9dafd"/><rect x="937.13" y="856.02" width="5.08" height="15.98" fill="#e3e3e4"/><rect x="937.13" y="816.16" width="5.08" height="39.86" fill="#c9dafd"/><rect x="942.16" y="856.02" width="5.08" height="15.98" fill="#e3e3e4"/><rect x="942.16" y="816.16" width="5.08" height="39.86" fill="#c9dafd"/><rect x="947.19" y="856.02" width="5.08" height="15.98" fill="#e3e3e4"/><rect x="947.19" y="816.16" width="5.08" height="39.86" fill="#c9dafd"/><rect x="952.22" y="856.02" width="5.08" height="15.98" fill="#e3e3e4"/><rect x="952.22" y="816.16" width="5.08" height="39.86" fill="#c9dafd"/><rect x="957.25" y="870.71" width="5.08" height="1.29" fill="#e3e3e4"/><rect x="957.25" y="828.41" width="5.08" height="42.31" fill="#c9dafd"/><rect x="962.28" y="870.71" width="5.08" height="1.29" fill="#e3e3e4"/><rect x="962.28" y="828.41" width="5.08" height="42.31" fill="#c9dafd"/><rect x="967.31" y="869.85" width="5.08" height="2.15" fill="#e3e3e4"/><rect x="967.31" y="833.52" width="5.08" height="36.34" fill="#c9dafd"/><rect x="972.34" y="869.85" width="5.08" height="2.15" fill="#e3e3e4"/><rect x="972.34" y="833.52" width="5.08" height="36.34" fill="#c9dafd"/><rect x="977.37" y="869.85" width="5.08" height="2.15" fill="#e3e3e4"/><rect x="977.37" y="832.92" width="5.08" height="36.94" fill="#c9dafd"/><rect x="982.40" y="869.85" width="5.08" height="2.15" fill="#e3e3e4"/><rect x="982.40" y="832.92" width="5.08" height="36.94" fill="#c9dafd"/><rect x="987.43" y="869.85" width="5.08" height="2.15" fill="#e3e3e4"/><rect x="987.43" y="832.92" width="5.08" height="36.94" fill="#c9dafd"/><rect x="992.46" y="870.28" width="5.08" height="1.72" fill="#e3e3e4"/><rect x="992.46" y="834.20" width="5.08" height="36.08" fill="#c9dafd"/><rect x="997.49" y="835.66" width="5.08" height="36.34" fill="#c9dafd"/><rect x="1002.52" y="837.21" width="5.08" height="34.79" fill="#c9dafd"/></g>
<g><rect x="127.30" y="867.71" width="4.13" height="4.29" fill="#cdcdcf"/><rect x="127.30" y="806.07" width="4.13" height="61.63" fill="#0052ff"/><rect x="132.33" y="867.71" width="4.13" height="4.29" fill="#cdcdcf"/><rect x="132.33" y="806.07" width="4.13" height="61.63" fill="#0052ff"/><rect x="137.36" y="867.71" width="4.13" height="4.29" fill="#cdcdcf"/><rect x="137.36" y="806.07" width="4.13" height="61.63" fill="#0052ff"/><rect x="142.39" y="867.71" width="4.13" height="4.29" fill="#cdcdcf"/><rect x="142.39" y="806.07" width="4.13" height="61.63" fill="#0052ff"/><rect x="147.42" y="867.71" width="4.13" height="4.29" fill="#cdcdcf"/><rect x="147.42" y="859.54" width="4.13" height="8.16" fill="#0052ff"/><rect x="152.45" y="867.71" width="4.13" height="4.29" fill="#cdcdcf"/><rect x="152.45" y="858.69" width="4.13" height="9.02" fill="#0052ff"/><rect x="157.48" y="869.85" width="4.13" height="2.15" fill="#cdcdcf"/><rect x="157.48" y="863.41" width="4.13" height="6.44" fill="#0052ff"/><rect x="162.51" y="867.71" width="4.13" height="4.29" fill="#cdcdcf"/><rect x="162.51" y="860.40" width="4.13" height="7.30" fill="#0052ff"/><rect x="167.54" y="867.71" width="4.13" height="4.29" fill="#cdcdcf"/><rect x="167.54" y="860.40" width="4.13" height="7.30" fill="#0052ff"/><rect x="172.57" y="867.71" width="4.13" height="4.29" fill="#cdcdcf"/><rect x="172.57" y="860.40" width="4.13" height="7.30" fill="#0052ff"/><rect x="177.60" y="867.71" width="4.13" height="4.29" fill="#cdcdcf"/><rect x="177.60" y="860.40" width="4.13" height="7.30" fill="#0052ff"/><rect x="182.63" y="868.13" width="4.13" height="3.87" fill="#cdcdcf"/><rect x="182.63" y="786.96" width="4.13" height="81.18" fill="#0052ff"/><rect x="187.66" y="868.56" width="4.13" height="3.44" fill="#cdcdcf"/><rect x="187.66" y="788.25" width="4.13" height="80.32" fill="#0052ff"/><rect x="192.69" y="868.56" width="4.13" height="3.44" fill="#cdcdcf"/><rect x="192.69" y="788.25" width="4.13" height="80.32" fill="#0052ff"/><rect x="197.72" y="869.85" width="4.13" height="2.15" fill="#cdcdcf"/><rect x="197.72" y="789.11" width="4.13" height="80.75" fill="#0052ff"/><rect x="202.75" y="869.85" width="4.13" height="2.15" fill="#cdcdcf"/><rect x="202.75" y="789.11" width="4.13" height="80.75" fill="#0052ff"/><rect x="207.78" y="869.85" width="4.13" height="2.15" fill="#cdcdcf"/><rect x="207.78" y="789.11" width="4.13" height="80.75" fill="#0052ff"/><rect x="212.81" y="869.85" width="4.13" height="2.15" fill="#cdcdcf"/><rect x="212.81" y="789.11" width="4.13" height="80.75" fill="#0052ff"/><rect x="217.84" y="869.85" width="4.13" height="2.15" fill="#cdcdcf"/><rect x="217.84" y="837.64" width="4.13" height="32.21" fill="#0052ff"/><rect x="222.87" y="869.42" width="4.13" height="2.58" fill="#cdcdcf"/><rect x="222.87" y="836.78" width="4.13" height="32.64" fill="#0052ff"/><rect x="227.90" y="869.42" width="4.13" height="2.58" fill="#cdcdcf"/><rect x="227.90" y="836.78" width="4.13" height="32.64" fill="#0052ff"/><rect x="232.93" y="870.71" width="4.13" height="1.29" fill="#cdcdcf"/><rect x="232.93" y="836.05" width="4.13" height="34.66" fill="#0052ff"/><rect x="237.96" y="870.71" width="4.13" height="1.29" fill="#cdcdcf"/><rect x="237.96" y="836.05" width="4.13" height="34.66" fill="#0052ff"/><rect x="242.99" y="870.71" width="4.13" height="1.29" fill="#cdcdcf"/><rect x="242.99" y="836.05" width="4.13" height="34.66" fill="#0052ff"/><rect x="248.02" y="870.71" width="4.13" height="1.29" fill="#cdcdcf"/><rect x="248.02" y="836.05" width="4.13" height="34.66" fill="#0052ff"/><rect x="253.05" y="870.71" width="4.13" height="1.29" fill="#cdcdcf"/><rect x="253.05" y="850.95" width="4.13" height="19.76" fill="#0052ff"/><rect x="258.08" y="871.14" width="4.13" height="0.86" fill="#cdcdcf"/><rect x="258.08" y="851.60" width="4.13" height="19.54" fill="#0052ff"/><rect x="263.11" y="871.14" width="4.13" height="0.86" fill="#cdcdcf"/><rect x="263.11" y="850.95" width="4.13" height="20.19" fill="#0052ff"/><rect x="268.14" y="871.14" width="4.13" height="0.86" fill="#cdcdcf"/><rect x="268.14" y="853.10" width="4.13" height="18.04" fill="#0052ff"/><rect x="273.17" y="871.14" width="4.13" height="0.86" fill="#cdcdcf"/><rect x="273.17" y="853.10" width="4.13" height="18.04" fill="#0052ff"/><rect x="278.20" y="871.14" width="4.13" height="0.86" fill="#cdcdcf"/><rect x="278.20" y="853.10" width="4.13" height="18.04" fill="#0052ff"/><rect x="283.23" y="871.14" width="4.13" height="0.86" fill="#cdcdcf"/><rect x="283.23" y="853.10" width="4.13" height="18.04" fill="#0052ff"/><rect x="288.26" y="871.14" width="4.13" height="0.86" fill="#cdcdcf"/><rect x="288.26" y="836.78" width="4.13" height="34.36" fill="#0052ff"/><rect x="293.29" y="871.36" width="4.13" height="0.64" fill="#cdcdcf"/><rect x="293.29" y="724.38" width="4.13" height="146.97" fill="#0052ff"/><rect x="298.32" y="871.36" width="4.13" height="0.64" fill="#cdcdcf"/><rect x="298.32" y="724.38" width="4.13" height="146.97" fill="#0052ff"/><rect x="303.35" y="871.36" width="4.13" height="0.64" fill="#cdcdcf"/><rect x="303.35" y="724.38" width="4.13" height="146.97" fill="#0052ff"/><rect x="308.38" y="871.36" width="4.13" height="0.64" fill="#cdcdcf"/><rect x="308.38" y="724.38" width="4.13" height="146.97" fill="#0052ff"/><rect x="313.41" y="871.36" width="4.13" height="0.64" fill="#cdcdcf"/><rect x="313.41" y="724.38" width="4.13" height="146.97" fill="#0052ff"/><rect x="318.44" y="871.36" width="4.13" height="0.64" fill="#cdcdcf"/><rect x="318.44" y="724.38" width="4.13" height="146.97" fill="#0052ff"/><rect x="323.47" y="871.57" width="4.13" height="0.43" fill="#cdcdcf"/><rect x="323.47" y="755.35" width="4.13" height="116.22" fill="#0052ff"/><rect x="328.50" y="867.88" width="4.13" height="4.12" fill="#0052ff"/><rect x="333.53" y="867.88" width="4.13" height="4.12" fill="#0052ff"/><rect x="338.56" y="867.88" width="4.13" height="4.12" fill="#0052ff"/><rect x="343.59" y="851.99" width="4.13" height="20.01" fill="#9fbdfc"/><rect x="343.59" y="847.52" width="4.13" height="4.47" fill="#0052ff"/><rect x="348.62" y="851.99" width="4.13" height="20.01" fill="#9fbdfc"/><rect x="348.62" y="847.52" width="4.13" height="4.47" fill="#0052ff"/><rect x="353.65" y="851.99" width="4.13" height="20.01" fill="#9fbdfc"/><rect x="353.65" y="847.52" width="4.13" height="4.47" fill="#0052ff"/><rect x="358.68" y="851.99" width="4.13" height="20.01" fill="#9fbdfc"/><rect x="358.68" y="806.72" width="4.13" height="45.27" fill="#0052ff"/><rect x="363.71" y="870.20" width="4.13" height="1.80" fill="#707173"/><rect x="363.71" y="849.88" width="4.13" height="20.32" fill="#9fbdfc"/><rect x="363.71" y="804.35" width="4.13" height="45.53" fill="#0052ff"/><rect x="368.74" y="870.20" width="4.13" height="1.80" fill="#707173"/><rect x="368.74" y="849.88" width="4.13" height="20.32" fill="#9fbdfc"/><rect x="368.74" y="804.35" width="4.13" height="45.53" fill="#0052ff"/><rect x="373.77" y="870.20" width="4.13" height="1.80" fill="#707173"/><rect x="373.77" y="849.88" width="4.13" height="20.32" fill="#9fbdfc"/><rect x="373.77" y="804.35" width="4.13" height="45.53" fill="#0052ff"/><rect x="378.80" y="870.20" width="4.13" height="1.80" fill="#707173"/><rect x="378.80" y="824.33" width="4.13" height="45.87" fill="#0052ff"/><rect x="383.83" y="870.20" width="4.13" height="1.80" fill="#707173"/><rect x="383.83" y="824.33" width="4.13" height="45.87" fill="#0052ff"/><rect x="388.86" y="870.20" width="4.13" height="1.80" fill="#707173"/><rect x="388.86" y="824.33" width="4.13" height="45.87" fill="#0052ff"/><rect x="393.89" y="869.85" width="4.13" height="2.15" fill="#707173"/><rect x="398.92" y="870.28" width="4.13" height="1.72" fill="#9fbdfc"/><rect x="403.95" y="870.28" width="4.13" height="1.72" fill="#9fbdfc"/><rect x="403.95" y="847.52" width="4.13" height="22.76" fill="#0052ff"/><rect x="408.98" y="870.28" width="4.13" height="1.72" fill="#9fbdfc"/><rect x="408.98" y="847.52" width="4.13" height="22.76" fill="#0052ff"/><rect x="414.01" y="870.28" width="4.13" height="1.72" fill="#9fbdfc"/><rect x="414.01" y="847.52" width="4.13" height="22.76" fill="#0052ff"/><rect x="419.04" y="870.28" width="4.13" height="1.72" fill="#9fbdfc"/><rect x="419.04" y="847.52" width="4.13" height="22.76" fill="#0052ff"/><rect x="424.07" y="870.28" width="4.13" height="1.72" fill="#9fbdfc"/><rect x="424.07" y="847.52" width="4.13" height="22.76" fill="#0052ff"/><rect x="429.10" y="869.42" width="4.13" height="2.58" fill="#9fbdfc"/><rect x="429.10" y="824.75" width="4.13" height="44.67" fill="#0052ff"/><rect x="434.13" y="869.42" width="4.13" height="2.58" fill="#9fbdfc"/><rect x="434.13" y="824.75" width="4.13" height="44.67" fill="#0052ff"/><rect x="439.16" y="870.71" width="4.13" height="1.29" fill="#9fbdfc"/><rect x="439.16" y="846.23" width="4.13" height="24.48" fill="#0052ff"/><rect x="444.19" y="870.71" width="4.13" height="1.29" fill="#9fbdfc"/><rect x="444.19" y="846.23" width="4.13" height="24.48" fill="#0052ff"/><rect x="449.22" y="870.71" width="4.13" height="1.29" fill="#9fbdfc"/><rect x="449.22" y="846.23" width="4.13" height="24.48" fill="#0052ff"/><rect x="454.25" y="870.71" width="4.13" height="1.29" fill="#9fbdfc"/><rect x="454.25" y="846.23" width="4.13" height="24.48" fill="#0052ff"/><rect x="459.28" y="870.71" width="4.13" height="1.29" fill="#9fbdfc"/><rect x="459.28" y="846.23" width="4.13" height="24.48" fill="#0052ff"/><rect x="464.31" y="861.26" width="4.13" height="10.74" fill="#9fbdfc"/><rect x="469.34" y="861.26" width="4.13" height="10.74" fill="#9fbdfc"/><rect x="474.37" y="853.96" width="4.13" height="18.04" fill="#9fbdfc"/><rect x="479.40" y="853.10" width="4.13" height="18.90" fill="#9fbdfc"/><rect x="484.43" y="844.51" width="4.13" height="27.49" fill="#9fbdfc"/><rect x="484.43" y="841.51" width="4.13" height="3.01" fill="#0052ff"/><rect x="489.46" y="844.51" width="4.13" height="27.49" fill="#9fbdfc"/><rect x="489.46" y="841.51" width="4.13" height="3.01" fill="#0052ff"/><rect x="494.49" y="844.51" width="4.13" height="27.49" fill="#9fbdfc"/><rect x="494.49" y="841.51" width="4.13" height="3.01" fill="#0052ff"/><rect x="499.52" y="839.79" width="4.13" height="32.21" fill="#9fbdfc"/><rect x="499.52" y="813.16" width="4.13" height="26.63" fill="#0052ff"/><rect x="504.55" y="838.50" width="4.13" height="33.50" fill="#9fbdfc"/><rect x="504.55" y="811.87" width="4.13" height="26.63" fill="#0052ff"/><rect x="509.58" y="847.52" width="4.13" height="24.48" fill="#9fbdfc"/><rect x="509.58" y="820.25" width="4.13" height="27.27" fill="#0052ff"/><rect x="514.61" y="864.70" width="4.13" height="7.30" fill="#cdcdcf"/><rect x="514.61" y="821.32" width="4.13" height="43.38" fill="#9fbdfc"/><rect x="514.61" y="793.40" width="4.13" height="27.92" fill="#0052ff"/><rect x="519.64" y="864.70" width="4.13" height="7.30" fill="#cdcdcf"/><rect x="519.64" y="825.61" width="4.13" height="39.08" fill="#9fbdfc"/><rect x="519.64" y="801.13" width="4.13" height="24.48" fill="#0052ff"/><rect x="524.67" y="864.70" width="4.13" height="7.30" fill="#cdcdcf"/><rect x="524.67" y="825.61" width="4.13" height="39.08" fill="#9fbdfc"/><rect x="524.67" y="801.13" width="4.13" height="24.48" fill="#0052ff"/><rect x="529.70" y="864.70" width="4.13" height="7.30" fill="#cdcdcf"/><rect x="529.70" y="822.61" width="4.13" height="42.09" fill="#9fbdfc"/><rect x="529.70" y="797.27" width="4.13" height="25.34" fill="#0052ff"/><rect x="534.73" y="862.98" width="4.13" height="9.02" fill="#cdcdcf"/><rect x="534.73" y="768.49" width="4.13" height="94.49" fill="#9fbdfc"/><rect x="534.73" y="730.69" width="4.13" height="37.80" fill="#0052ff"/><rect x="539.76" y="862.98" width="4.13" height="9.02" fill="#cdcdcf"/><rect x="539.76" y="770.64" width="4.13" height="92.34" fill="#9fbdfc"/><rect x="539.76" y="733.06" width="4.13" height="37.58" fill="#0052ff"/><rect x="544.79" y="862.98" width="4.13" height="9.02" fill="#cdcdcf"/><rect x="544.79" y="770.64" width="4.13" height="92.34" fill="#9fbdfc"/><rect x="544.79" y="733.70" width="4.13" height="36.94" fill="#0052ff"/><rect x="549.82" y="757.32" width="4.13" height="114.68" fill="#9fbdfc"/><rect x="549.82" y="719.10" width="4.13" height="38.23" fill="#0052ff"/><rect x="554.85" y="759.47" width="4.13" height="112.53" fill="#9fbdfc"/><rect x="554.85" y="722.10" width="4.13" height="37.37" fill="#0052ff"/><rect x="559.88" y="759.47" width="4.13" height="112.53" fill="#9fbdfc"/><rect x="559.88" y="722.10" width="4.13" height="37.37" fill="#0052ff"/><rect x="564.91" y="751.31" width="4.13" height="120.69" fill="#9fbdfc"/><rect x="564.91" y="713.51" width="4.13" height="37.80" fill="#0052ff"/><rect x="569.94" y="805.21" width="4.13" height="66.79" fill="#9fbdfc"/><rect x="569.94" y="800.70" width="4.13" height="4.51" fill="#0052ff"/><rect x="574.97" y="801.56" width="4.13" height="70.44" fill="#9fbdfc"/><rect x="574.97" y="501.60" width="4.13" height="299.96" fill="#0052ff"/><rect x="580.00" y="800.27" width="4.13" height="71.73" fill="#9fbdfc"/><rect x="580.00" y="501.60" width="4.13" height="298.67" fill="#0052ff"/><rect x="585.03" y="841.93" width="4.13" height="30.07" fill="#9fbdfc"/><rect x="585.03" y="543.99" width="4.13" height="297.94" fill="#0052ff"/><rect x="590.06" y="841.93" width="4.13" height="30.07" fill="#9fbdfc"/><rect x="590.06" y="543.99" width="4.13" height="297.94" fill="#0052ff"/><rect x="595.09" y="841.93" width="4.13" height="30.07" fill="#9fbdfc"/><rect x="595.09" y="543.99" width="4.13" height="297.94" fill="#0052ff"/><rect x="600.12" y="853.32" width="4.13" height="18.68" fill="#9fbdfc"/><rect x="600.12" y="555.03" width="4.13" height="298.29" fill="#0052ff"/><rect x="605.15" y="832.92" width="4.13" height="39.08" fill="#9fbdfc"/><rect x="605.15" y="538.28" width="4.13" height="294.64" fill="#0052ff"/><rect x="610.18" y="823.90" width="4.13" height="48.10" fill="#9fbdfc"/><rect x="615.21" y="825.18" width="4.13" height="46.82" fill="#9fbdfc"/><rect x="620.24" y="861.26" width="4.13" height="10.74" fill="#707173"/><rect x="620.24" y="814.23" width="4.13" height="47.03" fill="#9fbdfc"/><rect x="625.27" y="860.19" width="4.13" height="11.81" fill="#707173"/><rect x="625.27" y="812.94" width="4.13" height="47.25" fill="#9fbdfc"/><rect x="630.30" y="860.19" width="4.13" height="11.81" fill="#707173"/><rect x="630.30" y="812.94" width="4.13" height="47.25" fill="#9fbdfc"/><rect x="635.33" y="860.19" width="4.13" height="11.81" fill="#707173"/><rect x="635.33" y="806.72" width="4.13" height="53.47" fill="#9fbdfc"/><rect x="640.36" y="852.67" width="4.13" height="19.33" fill="#707173"/><rect x="640.36" y="758.61" width="4.13" height="94.06" fill="#9fbdfc"/><rect x="645.39" y="852.67" width="4.13" height="19.33" fill="#707173"/><rect x="645.39" y="772.14" width="4.13" height="80.53" fill="#9fbdfc"/><rect x="650.42" y="852.67" width="4.13" height="19.33" fill="#707173"/><rect x="650.42" y="772.14" width="4.13" height="80.53" fill="#9fbdfc"/><rect x="655.45" y="864.27" width="4.13" height="7.73" fill="#707173"/><rect x="655.45" y="783.52" width="4.13" height="80.75" fill="#9fbdfc"/><rect x="660.48" y="864.27" width="4.13" height="7.73" fill="#707173"/><rect x="660.48" y="759.04" width="4.13" height="105.23" fill="#9fbdfc"/><rect x="665.51" y="864.27" width="4.13" height="7.73" fill="#707173"/><rect x="665.51" y="759.04" width="4.13" height="105.23" fill="#9fbdfc"/><rect x="670.54" y="864.27" width="4.13" height="7.73" fill="#707173"/><rect x="670.54" y="765.91" width="4.13" height="98.36" fill="#9fbdfc"/><rect x="675.57" y="753.89" width="4.13" height="118.11" fill="#9fbdfc"/><rect x="680.60" y="753.46" width="4.13" height="118.54" fill="#9fbdfc"/><rect x="680.60" y="723.39" width="4.13" height="30.06" fill="#0052ff"/><rect x="685.63" y="753.46" width="4.13" height="118.54" fill="#9fbdfc"/><rect x="685.63" y="723.39" width="4.13" height="30.06" fill="#0052ff"/><rect x="690.66" y="753.46" width="4.13" height="118.54" fill="#9fbdfc"/><rect x="690.66" y="723.39" width="4.13" height="30.06" fill="#0052ff"/><rect x="695.69" y="779.87" width="4.13" height="92.13" fill="#9fbdfc"/><rect x="695.69" y="750.02" width="4.13" height="29.85" fill="#0052ff"/><rect x="700.72" y="779.87" width="4.13" height="92.13" fill="#9fbdfc"/><rect x="700.72" y="750.02" width="4.13" height="29.85" fill="#0052ff"/><rect x="705.75" y="779.01" width="4.13" height="92.99" fill="#9fbdfc"/><rect x="705.75" y="749.16" width="4.13" height="29.85" fill="#0052ff"/><rect x="710.78" y="828.41" width="4.13" height="43.59" fill="#9fbdfc"/><rect x="710.78" y="785.24" width="4.13" height="43.16" fill="#0052ff"/><rect x="715.81" y="866.85" width="4.13" height="5.15" fill="#707173"/><rect x="715.81" y="864.27" width="4.13" height="2.58" fill="#cdcdcf"/><rect x="715.81" y="812.08" width="4.13" height="52.18" fill="#9fbdfc"/><rect x="715.81" y="798.56" width="4.13" height="13.53" fill="#0052ff"/><rect x="720.84" y="866.85" width="4.13" height="5.15" fill="#707173"/><rect x="720.84" y="864.27" width="4.13" height="2.58" fill="#cdcdcf"/><rect x="720.84" y="812.08" width="4.13" height="52.18" fill="#9fbdfc"/><rect x="720.84" y="798.56" width="4.13" height="13.53" fill="#0052ff"/><rect x="725.87" y="866.85" width="4.13" height="5.15" fill="#707173"/><rect x="725.87" y="860.83" width="4.13" height="6.01" fill="#cdcdcf"/><rect x="725.87" y="793.83" width="4.13" height="67.00" fill="#9fbdfc"/><rect x="725.87" y="779.44" width="4.13" height="14.39" fill="#0052ff"/><rect x="730.90" y="866.85" width="4.13" height="5.15" fill="#707173"/><rect x="730.90" y="860.83" width="4.13" height="6.01" fill="#cdcdcf"/><rect x="730.90" y="793.83" width="4.13" height="67.00" fill="#9fbdfc"/><rect x="730.90" y="779.44" width="4.13" height="14.39" fill="#0052ff"/><rect x="735.93" y="866.85" width="4.13" height="5.15" fill="#707173"/><rect x="735.93" y="860.83" width="4.13" height="6.01" fill="#cdcdcf"/><rect x="735.93" y="793.83" width="4.13" height="67.00" fill="#9fbdfc"/><rect x="735.93" y="779.44" width="4.13" height="14.39" fill="#0052ff"/><rect x="740.96" y="866.85" width="4.13" height="5.15" fill="#707173"/><rect x="740.96" y="860.83" width="4.13" height="6.01" fill="#cdcdcf"/><rect x="740.96" y="793.83" width="4.13" height="67.00" fill="#9fbdfc"/><rect x="740.96" y="779.44" width="4.13" height="14.39" fill="#0052ff"/><rect x="745.99" y="868.35" width="4.13" height="3.65" fill="#707173"/><rect x="745.99" y="862.12" width="4.13" height="6.23" fill="#cdcdcf"/><rect x="745.99" y="835.92" width="4.13" height="26.20" fill="#9fbdfc"/><rect x="751.02" y="869.21" width="4.13" height="2.79" fill="#707173"/><rect x="751.02" y="847.95" width="4.13" height="21.26" fill="#cdcdcf"/><rect x="751.02" y="783.31" width="4.13" height="64.64" fill="#9fbdfc"/><rect x="751.02" y="765.27" width="4.13" height="18.04" fill="#0052ff"/><rect x="756.05" y="869.21" width="4.13" height="2.79" fill="#707173"/><rect x="756.05" y="847.95" width="4.13" height="21.26" fill="#cdcdcf"/><rect x="756.05" y="783.31" width="4.13" height="64.64" fill="#9fbdfc"/><rect x="756.05" y="765.27" width="4.13" height="18.04" fill="#0052ff"/><rect x="761.08" y="869.21" width="4.13" height="2.79" fill="#707173"/><rect x="761.08" y="851.17" width="4.13" height="18.04" fill="#cdcdcf"/><rect x="761.08" y="801.56" width="4.13" height="49.61" fill="#9fbdfc"/><rect x="761.08" y="784.38" width="4.13" height="17.18" fill="#0052ff"/><rect x="766.11" y="869.21" width="4.13" height="2.79" fill="#707173"/><rect x="766.11" y="851.17" width="4.13" height="18.04" fill="#cdcdcf"/><rect x="766.11" y="803.07" width="4.13" height="48.10" fill="#9fbdfc"/><rect x="766.11" y="784.38" width="4.13" height="18.68" fill="#0052ff"/><rect x="771.14" y="869.21" width="4.13" height="2.79" fill="#707173"/><rect x="771.14" y="851.17" width="4.13" height="18.04" fill="#cdcdcf"/><rect x="771.14" y="801.56" width="4.13" height="49.61" fill="#9fbdfc"/><rect x="771.14" y="784.38" width="4.13" height="17.18" fill="#0052ff"/><rect x="776.17" y="869.21" width="4.13" height="2.79" fill="#707173"/><rect x="776.17" y="851.17" width="4.13" height="18.04" fill="#cdcdcf"/><rect x="776.17" y="801.56" width="4.13" height="49.61" fill="#9fbdfc"/><rect x="776.17" y="784.38" width="4.13" height="17.18" fill="#0052ff"/><rect x="781.20" y="869.21" width="4.13" height="2.79" fill="#707173"/><rect x="781.20" y="850.10" width="4.13" height="19.11" fill="#cdcdcf"/><rect x="781.20" y="762.91" width="4.13" height="87.19" fill="#9fbdfc"/><rect x="781.20" y="735.42" width="4.13" height="27.49" fill="#0052ff"/><rect x="786.23" y="832.92" width="4.13" height="39.08" fill="#9fbdfc"/><rect x="786.23" y="824.75" width="4.13" height="8.16" fill="#0052ff"/><rect x="791.26" y="870.28" width="4.13" height="1.72" fill="#707173"/><rect x="791.26" y="868.13" width="4.13" height="2.15" fill="#cdcdcf"/><rect x="791.26" y="830.34" width="4.13" height="37.80" fill="#9fbdfc"/><rect x="791.26" y="822.18" width="4.13" height="8.16" fill="#0052ff"/><rect x="796.29" y="870.28" width="4.13" height="1.72" fill="#707173"/><rect x="796.29" y="868.13" width="4.13" height="2.15" fill="#cdcdcf"/><rect x="796.29" y="830.34" width="4.13" height="37.80" fill="#9fbdfc"/><rect x="796.29" y="822.18" width="4.13" height="8.16" fill="#0052ff"/><rect x="801.32" y="870.28" width="4.13" height="1.72" fill="#707173"/><rect x="801.32" y="867.71" width="4.13" height="2.58" fill="#cdcdcf"/><rect x="801.32" y="829.48" width="4.13" height="38.23" fill="#9fbdfc"/><rect x="801.32" y="821.53" width="4.13" height="7.95" fill="#0052ff"/><rect x="806.35" y="870.28" width="4.13" height="1.72" fill="#707173"/><rect x="806.35" y="868.13" width="4.13" height="2.15" fill="#cdcdcf"/><rect x="806.35" y="830.34" width="4.13" height="37.80" fill="#9fbdfc"/><rect x="806.35" y="822.18" width="4.13" height="8.16" fill="#0052ff"/><rect x="811.38" y="870.28" width="4.13" height="1.72" fill="#707173"/><rect x="811.38" y="868.13" width="4.13" height="2.15" fill="#cdcdcf"/><rect x="811.38" y="830.34" width="4.13" height="37.80" fill="#9fbdfc"/><rect x="811.38" y="822.18" width="4.13" height="8.16" fill="#0052ff"/><rect x="816.41" y="870.28" width="4.13" height="1.72" fill="#707173"/><rect x="816.41" y="798.99" width="4.13" height="71.30" fill="#cdcdcf"/><rect x="816.41" y="782.66" width="4.13" height="16.32" fill="#9fbdfc"/><rect x="816.41" y="780.30" width="4.13" height="2.36" fill="#0052ff"/><rect x="821.44" y="870.28" width="4.13" height="1.72" fill="#707173"/><rect x="821.44" y="798.99" width="4.13" height="71.30" fill="#cdcdcf"/><rect x="821.44" y="782.66" width="4.13" height="16.32" fill="#9fbdfc"/><rect x="821.44" y="780.30" width="4.13" height="2.36" fill="#0052ff"/><rect x="826.47" y="800.83" width="4.13" height="71.17" fill="#cdcdcf"/><rect x="826.47" y="784.38" width="4.13" height="16.45" fill="#9fbdfc"/><rect x="826.47" y="782.66" width="4.13" height="1.72" fill="#0052ff"/><rect x="831.50" y="801.13" width="4.13" height="70.87" fill="#cdcdcf"/><rect x="831.50" y="784.81" width="4.13" height="16.32" fill="#9fbdfc"/><rect x="831.50" y="783.09" width="4.13" height="1.72" fill="#0052ff"/><rect x="836.53" y="801.13" width="4.13" height="70.87" fill="#cdcdcf"/><rect x="836.53" y="784.17" width="4.13" height="16.97" fill="#9fbdfc"/><rect x="836.53" y="782.45" width="4.13" height="1.72" fill="#0052ff"/><rect x="841.56" y="801.13" width="4.13" height="70.87" fill="#cdcdcf"/><rect x="841.56" y="784.17" width="4.13" height="16.97" fill="#9fbdfc"/><rect x="841.56" y="782.45" width="4.13" height="1.72" fill="#0052ff"/><rect x="846.59" y="801.13" width="4.13" height="70.87" fill="#cdcdcf"/><rect x="846.59" y="784.17" width="4.13" height="16.97" fill="#9fbdfc"/><rect x="846.59" y="782.45" width="4.13" height="1.72" fill="#0052ff"/><rect x="851.62" y="864.27" width="4.13" height="7.73" fill="#cdcdcf"/><rect x="851.62" y="813.89" width="4.13" height="50.38" fill="#9fbdfc"/><rect x="851.62" y="809.29" width="4.13" height="4.60" fill="#0052ff"/><rect x="856.65" y="864.27" width="4.13" height="7.73" fill="#cdcdcf"/><rect x="856.65" y="812.51" width="4.13" height="51.75" fill="#9fbdfc"/><rect x="856.65" y="809.29" width="4.13" height="3.22" fill="#0052ff"/><rect x="861.68" y="865.30" width="4.13" height="6.70" fill="#cdcdcf"/><rect x="861.68" y="813.59" width="4.13" height="51.71" fill="#9fbdfc"/><rect x="861.68" y="809.94" width="4.13" height="3.65" fill="#0052ff"/><rect x="866.71" y="865.30" width="4.13" height="6.70" fill="#cdcdcf"/><rect x="866.71" y="813.59" width="4.13" height="51.71" fill="#9fbdfc"/><rect x="866.71" y="809.94" width="4.13" height="3.65" fill="#0052ff"/><rect x="871.74" y="865.30" width="4.13" height="6.70" fill="#cdcdcf"/><rect x="871.74" y="813.59" width="4.13" height="51.71" fill="#9fbdfc"/><rect x="871.74" y="809.94" width="4.13" height="3.65" fill="#0052ff"/><rect x="876.77" y="865.30" width="4.13" height="6.70" fill="#cdcdcf"/><rect x="876.77" y="813.59" width="4.13" height="51.71" fill="#9fbdfc"/><rect x="876.77" y="809.94" width="4.13" height="3.65" fill="#0052ff"/><rect x="881.80" y="865.30" width="4.13" height="6.70" fill="#cdcdcf"/><rect x="881.80" y="813.59" width="4.13" height="51.71" fill="#9fbdfc"/><rect x="881.80" y="809.94" width="4.13" height="3.65" fill="#0052ff"/><rect x="886.83" y="829.91" width="4.13" height="42.09" fill="#9fbdfc"/><rect x="891.86" y="829.31" width="4.13" height="42.69" fill="#9fbdfc"/><rect x="896.89" y="829.31" width="4.13" height="42.69" fill="#9fbdfc"/><rect x="901.92" y="829.31" width="4.13" height="42.69" fill="#9fbdfc"/><rect x="906.95" y="829.31" width="4.13" height="42.69" fill="#9fbdfc"/><rect x="911.98" y="829.31" width="4.13" height="42.69" fill="#9fbdfc"/><rect x="917.01" y="829.31" width="4.13" height="42.69" fill="#9fbdfc"/><rect x="922.04" y="858.38" width="4.13" height="13.62" fill="#cdcdcf"/><rect x="922.04" y="823.34" width="4.13" height="35.05" fill="#9fbdfc"/><rect x="927.07" y="856.02" width="4.13" height="15.98" fill="#cdcdcf"/><rect x="927.07" y="822.05" width="4.13" height="33.97" fill="#9fbdfc"/><rect x="932.10" y="856.02" width="4.13" height="15.98" fill="#cdcdcf"/><rect x="932.10" y="816.16" width="4.13" height="39.86" fill="#9fbdfc"/><rect x="937.13" y="856.02" width="4.13" height="15.98" fill="#cdcdcf"/><rect x="937.13" y="816.16" width="4.13" height="39.86" fill="#9fbdfc"/><rect x="942.16" y="856.02" width="4.13" height="15.98" fill="#cdcdcf"/><rect x="942.16" y="816.16" width="4.13" height="39.86" fill="#9fbdfc"/><rect x="947.19" y="856.02" width="4.13" height="15.98" fill="#cdcdcf"/><rect x="947.19" y="816.16" width="4.13" height="39.86" fill="#9fbdfc"/><rect x="952.22" y="856.02" width="4.13" height="15.98" fill="#cdcdcf"/><rect x="952.22" y="816.16" width="4.13" height="39.86" fill="#9fbdfc"/><rect x="957.25" y="870.71" width="4.13" height="1.29" fill="#cdcdcf"/><rect x="957.25" y="828.41" width="4.13" height="42.31" fill="#9fbdfc"/><rect x="962.28" y="870.71" width="4.13" height="1.29" fill="#cdcdcf"/><rect x="962.28" y="828.41" width="4.13" height="42.31" fill="#9fbdfc"/><rect x="967.31" y="869.85" width="4.13" height="2.15" fill="#cdcdcf"/><rect x="967.31" y="833.52" width="4.13" height="36.34" fill="#9fbdfc"/><rect x="972.34" y="869.85" width="4.13" height="2.15" fill="#cdcdcf"/><rect x="972.34" y="833.52" width="4.13" height="36.34" fill="#9fbdfc"/><rect x="977.37" y="869.85" width="4.13" height="2.15" fill="#cdcdcf"/><rect x="977.37" y="832.92" width="4.13" height="36.94" fill="#9fbdfc"/><rect x="982.40" y="869.85" width="4.13" height="2.15" fill="#cdcdcf"/><rect x="982.40" y="832.92" width="4.13" height="36.94" fill="#9fbdfc"/><rect x="987.43" y="869.85" width="4.13" height="2.15" fill="#cdcdcf"/><rect x="987.43" y="832.92" width="4.13" height="36.94" fill="#9fbdfc"/><rect x="992.46" y="870.28" width="4.13" height="1.72" fill="#cdcdcf"/><rect x="992.46" y="834.20" width="4.13" height="36.08" fill="#9fbdfc"/><rect x="997.49" y="835.66" width="4.13" height="36.34" fill="#9fbdfc"/><rect x="1002.52" y="837.21" width="4.13" height="34.79" fill="#9fbdfc"/></g>
<line x1="126.4" x2="126.4" y1="481" y2="894" stroke="#7a7a7a" stroke-width="1.8"/>
<line x1="125.5" x2="1007.5" y1="872.6" y2="872.6" stroke="#7a7a7a" stroke-width="1.6"/>
<line x1="125.5" x2="1007.5" y1="893.4" y2="893.4" stroke="#8a8a8a" stroke-width="1.4"/>
<text x="92" y="835.95" font-size="19.5" textLength="28.8" lengthAdjust="spacingAndGlyphs" fill="#111" stroke="#111">$1B</text><text x="92" y="793.00" font-size="19.5" textLength="28.8" lengthAdjust="spacingAndGlyphs" fill="#111" stroke="#111">$2B</text><text x="92" y="750.05" font-size="19.5" textLength="28.8" lengthAdjust="spacingAndGlyphs" fill="#111" stroke="#111">$3B</text><text x="92" y="707.10" font-size="19.5" textLength="28.8" lengthAdjust="spacingAndGlyphs" fill="#111" stroke="#111">$4B</text><text x="92" y="664.15" font-size="19.5" textLength="28.8" lengthAdjust="spacingAndGlyphs" fill="#111" stroke="#111">$5B</text><text x="92" y="621.20" font-size="19.5" textLength="28.8" lengthAdjust="spacingAndGlyphs" fill="#111" stroke="#111">$6B</text><text x="92" y="578.25" font-size="19.5" textLength="28.8" lengthAdjust="spacingAndGlyphs" fill="#111" stroke="#111">$7B</text><text x="92" y="535.30" font-size="19.5" textLength="28.8" lengthAdjust="spacingAndGlyphs" fill="#111" stroke="#111">$8B</text><text x="92" y="492.35" font-size="19.5" textLength="28.8" lengthAdjust="spacingAndGlyphs" fill="#111" stroke="#111">$9B</text><text x="103" y="878.90" font-size="19.5" textLength="17.8" lengthAdjust="spacingAndGlyphs" fill="#111" stroke="#111">$0</text><text x="92.7" y="918.2" font-size="20" textLength="72.8" lengthAdjust="spacingAndGlyphs" fill="#111" stroke="#111">May 2025</text><text x="250.9" y="918.2" font-size="20" textLength="68.2" lengthAdjust="spacingAndGlyphs" fill="#111" stroke="#111">Jun 2025</text><text x="404.7" y="918.2" font-size="20" textLength="63.3" lengthAdjust="spacingAndGlyphs" fill="#111" stroke="#111">Jul 2025</text><text x="556.7" y="918.2" font-size="20" textLength="71.7" lengthAdjust="spacingAndGlyphs" fill="#111" stroke="#111">Aug 2025</text><text x="712.7" y="918.2" font-size="20" textLength="71.7" lengthAdjust="spacingAndGlyphs" fill="#111" stroke="#111">Sep 2025</text><text x="865.5" y="918.2" font-size="20" textLength="68.0" lengthAdjust="spacingAndGlyphs" fill="#111" stroke="#111">Oct 2025</text><rect x="399.3" y="948" width="13.8" height="13.5" fill="#0052ff"/><text x="429.8" y="961.7" font-size="20" textLength="33.1" lengthAdjust="spacingAndGlyphs" fill="#111" stroke="#111">BTC</text><rect x="484.7" y="948" width="13.8" height="13.5" fill="#9fbdfc"/><text x="514.5" y="961.7" font-size="20" textLength="32.8" lengthAdjust="spacingAndGlyphs" fill="#111" stroke="#111">ETH</text><rect x="569.8" y="948" width="13.8" height="13.5" fill="#cdcdcf"/><text x="599.3" y="961.7" font-size="20" textLength="32.7" lengthAdjust="spacingAndGlyphs" fill="#111" stroke="#111">SOL</text><rect x="654.9" y="948" width="13.8" height="13.5" fill="#707173"/><text x="684.7" y="961.7" font-size="20" textLength="42.6" lengthAdjust="spacingAndGlyphs" fill="#111" stroke="#111">Other</text>
<text transform="translate(65.3,825) rotate(-90)" font-size="21.5" textLength="277.7" lengthAdjust="spacingAndGlyphs" fill="#111" stroke="#111">DATs - T7D Purchases by Asset</text>
<text x="58.6" y="1010.8" font-size="17" textLength="224.2" lengthAdjust="spacingAndGlyphs" fill="#7b7b7b" stroke="#7b7b7b" stroke-width="0.25">Sources: Blockworks and Coinbase.</text>
</svg>
<div class="abs hd" id="time" style="left:33.12px;top:1047.60px;font-size:29.5px;color:#536471;-webkit-text-stroke:0.2px #536471"><span style="left:0.00px;letter-spacing:0.178px">12:45 </span><span style="left:82.17px;letter-spacing:0.758px">AM </span><span style="left:135.39px;letter-spacing:-1.984px">· </span><span style="left:150.69px;letter-spacing:0.089px">Oct </span><span style="left:204.31px;letter-spacing:-0.464px">26, </span><span style="left:251.39px;letter-spacing:0.453px">2025</span></div>
<svg class="abs" style="left:1022px;top:1048px" width="40" height="40" viewBox="0 0 24 24">
<path fill="#536471" d="M13.500 8.500c0 .830-.670 1.500-1.500 1.500s-1.500-.670-1.500-1.500S11.170 7 12 7s1.500.670 1.500 1.500zM13 17v-5h-2v5h2zm-1 5.250c5.660 0 10.250-4.590 10.250-10.250S17.660 1.750 12 1.750 1.750 6.340 1.750 12 6.340 22.250 12 22.250zM20.250 12c0 4.560-3.690 8.250-8.250 8.250S3.750 16.560 3.750 12 7.440 3.750 12 3.750s8.250 3.690 8.250 8.250z"/>
</svg>
</div></div>
</body></html>
